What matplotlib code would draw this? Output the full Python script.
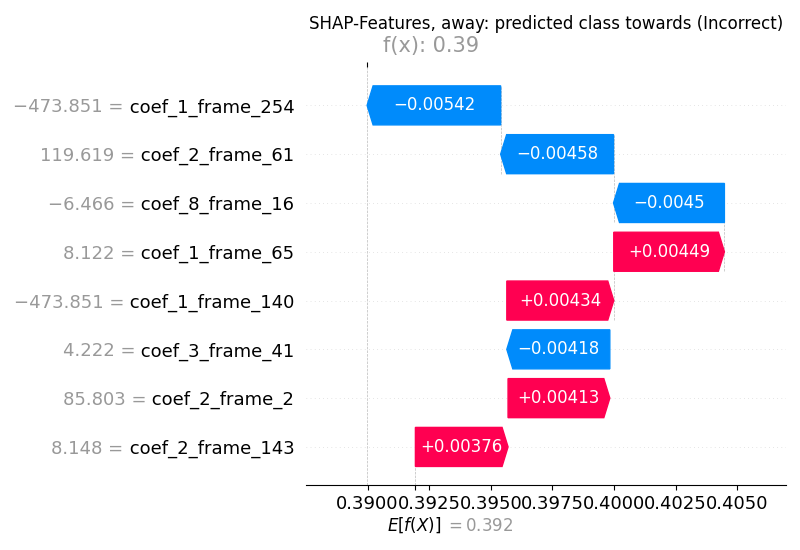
from matplotlib import pyplot as plt
from matplotlib.ticker import FixedLocator
import numpy as np

# datos (de arriba hacia abajo)
features = ["coef_1_frame_254", "coef_2_frame_61", "coef_8_frame_16", "coef_1_frame_65",
            "coef_1_frame_140", "coef_3_frame_41", "coef_2_frame_2", "coef_2_frame_143"]
feature_values = [-473.851, 119.619, -6.466, 8.122, -473.851, 4.222, 85.803, 8.148]
shap_values = [-0.00542, -0.00458, -0.0045, 0.00449, 0.00434, -0.00418, 0.00413, 0.00376]
base_value = 0.39194
title = "SHAP-Features, away: predicted class towards (Incorrect)"

red = "#ff0051"
blue = "#008bfb"
gray = "#999999"


def fmt(v, f):
    return (f % v).replace("-", "\u2212")


n = len(features)
fx = base_value + sum(shap_values)

fig = plt.figure(figsize=(8, 5.5), dpi=100)
ax = fig.add_axes([0.3825, 0.1182, 0.6, 0.7594])
xmin, xmax = 0.3875, 0.40698
ax.set_xlim(xmin, xmax)
ax.set_ylim(-0.78, n - 1 + 0.78)
renderer = fig.canvas.get_renderer()

bar_width = 0.8
hl = 6 * (xmax - xmin) / ax.get_window_extent().width   # cabeza de flecha ~6 px

# lineas horizontales punteadas
for i in range(n):
    ax.axhline(i, color="#cccccc", lw=0.5, dashes=(1, 5), zorder=-1)

ax.axvline(fx, 0, 1, color="#bbbbbb", linestyle="--", linewidth=0.5, zorder=-1)
ax.axvline(base_value, 0, 1 / n, color="#bbbbbb", linestyle="--", linewidth=0.5, zorder=-1)

yt = ax.get_yaxis_transform()
loc = fx
for i in range(n):
    r = n - 1 - i
    s = shap_values[i]
    loc -= s
    if s >= 0:
        ax.arrow(loc, r, max(s - hl, 1e-6), 0, head_length=min(s, hl), color=red,
                 width=bar_width, head_width=bar_width)
    else:
        ax.arrow(loc, r, -max(-s - hl, 1e-6), 0, head_length=min(-s, hl), color=blue,
                 width=bar_width, head_width=bar_width)
    ax.text(loc + 0.5 * s, r, fmt(s, "%+.3g"), ha="center", va="center", color="white", fontsize=12)
    if i + 4 < n:
        ax.plot([loc, loc], [r - 1 - 0.4, r + 0.4], color="#bbbbbb", linestyle="--", linewidth=0.5, zorder=-1)

    # etiqueta: nombre en negro, valor en gris a su izquierda
    t = ax.annotate(" " + features[i], xy=(0, r), xycoords=yt,
                    xytext=(-8.4, 0), textcoords="offset points", ha="right", va="center_baseline",
                    fontsize=13, color="black")
    w = t.get_window_extent(renderer).width * 72 / fig.dpi
    ax.annotate(fmt(feature_values[i], "%0.3f") + " =", xy=(0, r), xycoords=yt,
                xytext=(-8.4 - w, 0), textcoords="offset points", ha="right", va="center_baseline",
                fontsize=13, color=gray)

ax.set_xlim(xmin, xmax)
ax.set_ylim(-0.78, n - 1 + 0.78)

ax.set_yticks([])
ax.tick_params(axis="x", labelsize=13)
ax.xaxis.set_major_locator(FixedLocator(np.arange(0.39, 0.4051, 0.0025)))
for sp in ["left", "right", "top"]:
    ax.spines[sp].set_visible(False)

# marca de E[f(X)] abajo
ax2 = ax.twiny()
ax2.set_xlim(xmin, xmax)
ax2.xaxis.set_ticks_position("bottom")
ax2.set_xticks([base_value])
ax2.set_xticklabels([""])
for sp in ax2.spines.values():
    sp.set_visible(False)

# marca de f(x) arriba
ax3 = ax.twiny()
ax3.set_xlim(xmin, xmax)
ax3.set_xticks([fx])
ax3.set_xticklabels([""])
for sp in ax3.spines.values():
    sp.set_visible(False)

xt = ax.get_xaxis_transform()
ax.annotate("$E[f(X)]$", xy=(base_value, 0), xycoords=xt, xytext=(-1, -33),
            textcoords="offset points", ha="center", va="baseline", fontsize=12)
ax.annotate("$= " + fmt(base_value, "%0.3f") + "$", xy=(base_value, 0), xycoords=xt, xytext=(21.6, -33),
            textcoords="offset points", ha="left", va="baseline", fontsize=12, color=gray)
ax.annotate("f(x): %.2f" % fx, xy=(fx, 1), xycoords=xt, xytext=(11.2, 15.7),
            textcoords="offset points", ha="left", va="center", fontsize=15, color=gray)
ax.annotate(title, xy=(0.5, 1), xycoords="axes fraction", xytext=(0, 31.5),
            textcoords="offset points", ha="center", va="center", fontsize=12)

fig.savefig("out.png", dpi=100)
